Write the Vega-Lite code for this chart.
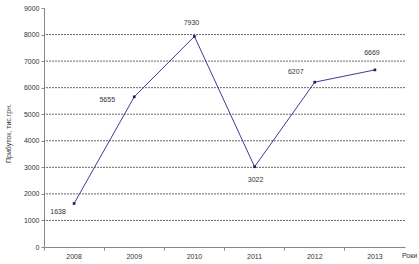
{
  "$schema": "https://vega.github.io/schema/vega-lite/v6.json",
  "width": 361,
  "height": 239,
  "autosize": {"type": "none"},
  "padding": {"left": 44, "top": 8, "right": 14, "bottom": 17},
  "background": "white",
  "config": {
    "view": {"stroke": null},
    "font": "Liberation Sans",
    "axis": {"labelFont": "Liberation Sans", "titleFont": "Liberation Sans"}
  },
  "data": {"values": [
    {"year": "2008", "value": 1638},
    {"year": "2009", "value": 5655},
    {"year": "2010", "value": 7930},
    {"year": "2011", "value": 3022},
    {"year": "2012", "value": 6207},
    {"year": "2013", "value": 6669}
  ]},
  "resolve": {"axis": {"x": "independent", "y": "independent"}},
  "layer": [
    {
      "mark": {"type": "rule", "stroke": "#444", "strokeWidth": 0.8, "strokeDash": [2, 1]},
      "data": {"values": [{"value": 1000}, {"value": 2000}, {"value": 3000}, {"value": 4000}, {"value": 5000}, {"value": 6000}, {"value": 7000}, {"value": 8000}]},
      "encoding": {
        "y": {"field": "value", "type": "quantitative", "scale": {"domain": [0, 9000], "nice": false},
          "axis": {"orient": "left", "values": [0, 1000, 2000, 3000, 4000, 5000, 6000, 7000, 8000, 9000], "format": "d", "domainColor": "#888", "tickColor": "#888", "tickSize": 3, "labelFontSize": 7, "labelColor": "#333", "labelPadding": 2, "grid": false,
            "title": "Прибуток, тис.грн.", "titleFontSize": 7, "titleFontWeight": "normal", "titleColor": "#333", "titleX": -36, "titleY": 125, "titleAngle": -90, "titleAlign": "center", "titleBaseline": "middle"}}
      }
    },
    {
      "mark": {"type": "line", "color": "#3c3c96", "strokeWidth": 1},
      "encoding": {
        "x": {"field": "year", "type": "ordinal", "scale": {"type": "band", "paddingInner": 0, "paddingOuter": 0},
          "axis": {"orient": "bottom", "domainColor": "#888", "tickColor": "#888", "tickSize": 3, "bandPosition": 0, "labels": false, "title": null, "grid": false}},
        "y": {"field": "value", "type": "quantitative", "axis": null}
      }
    },
    {
      "mark": {"type": "point", "shape": "square", "filled": true, "color": "#1a1a5e", "size": 7, "opacity": 1},
      "encoding": {
        "x": {"field": "year", "type": "ordinal",
          "axis": {"orient": "bottom", "domain": false, "ticks": false, "labelFontSize": 7, "labelColor": "#333", "labelPadding": 5, "labelAngle": 0,
            "title": "Роки", "titleFontSize": 7, "titleFontWeight": "normal", "titleColor": "#333", "titleX": 365, "titleY": 8, "titleBaseline": "middle", "titleAlign": "center"}},
        "y": {"field": "value", "type": "quantitative", "axis": null}
      }
    },
    {
      "transform": [{"filter": "datum.year == '2008'"}],
      "mark": {"type": "text", "fontSize": 7, "color": "#333", "dx": -16, "dy": 8},
      "encoding": {"x": {"field": "year", "type": "ordinal", "axis": null}, "y": {"field": "value", "type": "quantitative", "axis": null}, "text": {"field": "value", "type": "quantitative", "format": "d"}}
    },
    {
      "transform": [{"filter": "datum.year == '2009'"}],
      "mark": {"type": "text", "fontSize": 7, "color": "#333", "dx": -27, "dy": 3},
      "encoding": {"x": {"field": "year", "type": "ordinal", "axis": null}, "y": {"field": "value", "type": "quantitative", "axis": null}, "text": {"field": "value", "type": "quantitative", "format": "d"}}
    },
    {
      "transform": [{"filter": "datum.year == '2010'"}],
      "mark": {"type": "text", "fontSize": 7, "color": "#333", "dx": -3, "dy": -13},
      "encoding": {"x": {"field": "year", "type": "ordinal", "axis": null}, "y": {"field": "value", "type": "quantitative", "axis": null}, "text": {"field": "value", "type": "quantitative", "format": "d"}}
    },
    {
      "transform": [{"filter": "datum.year == '2011'"}],
      "mark": {"type": "text", "fontSize": 7, "color": "#333", "dx": 1, "dy": 13},
      "encoding": {"x": {"field": "year", "type": "ordinal", "axis": null}, "y": {"field": "value", "type": "quantitative", "axis": null}, "text": {"field": "value", "type": "quantitative", "format": "d"}}
    },
    {
      "transform": [{"filter": "datum.year == '2012'"}],
      "mark": {"type": "text", "fontSize": 7, "color": "#333", "dx": -19, "dy": -10},
      "encoding": {"x": {"field": "year", "type": "ordinal", "axis": null}, "y": {"field": "value", "type": "quantitative", "axis": null}, "text": {"field": "value", "type": "quantitative", "format": "d"}}
    },
    {
      "transform": [{"filter": "datum.year == '2013'"}],
      "mark": {"type": "text", "fontSize": 7, "color": "#333", "dx": -3, "dy": -17},
      "encoding": {"x": {"field": "year", "type": "ordinal", "axis": null}, "y": {"field": "value", "type": "quantitative", "axis": null}, "text": {"field": "value", "type": "quantitative", "format": "d"}}
    }
  ]
}
